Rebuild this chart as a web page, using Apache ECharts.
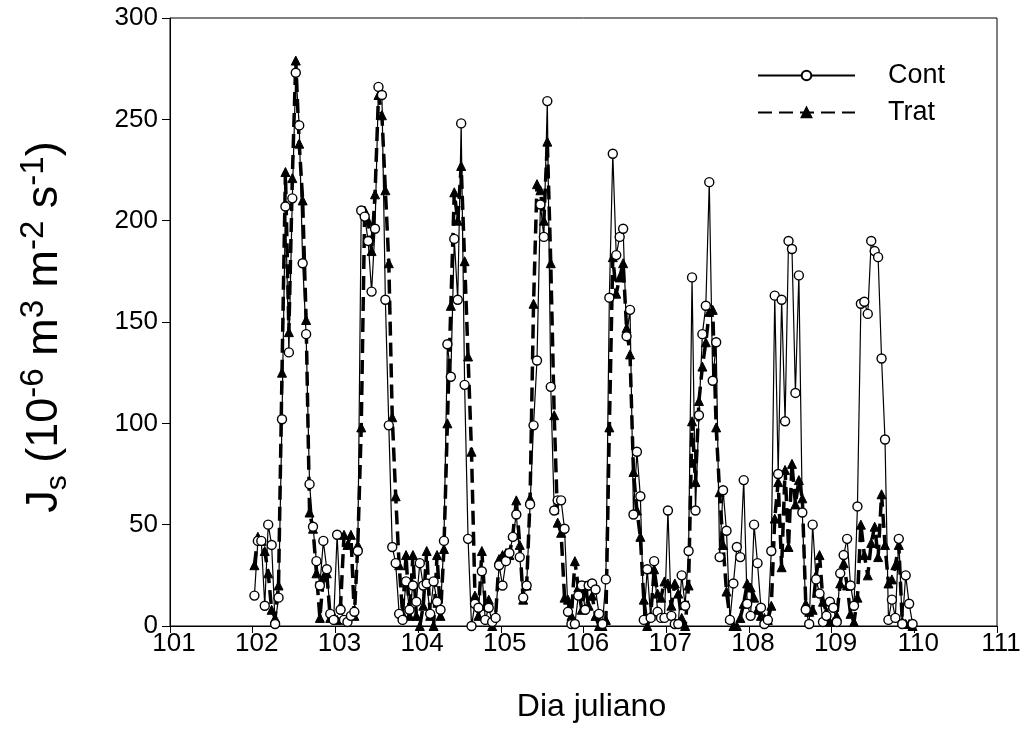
<!DOCTYPE html>
<html>
<head>
<meta charset="utf-8">
<script src="https://cdn.jsdelivr.net/npm/echarts@6/dist/echarts.min.js"></script>
<style>
  html, body { margin: 0; padding: 0; background: #fff; }
  #chart { width: 1025px; height: 756px; }
</style>
</head>
<body>
<div id="chart"></div>
<script>
// Sampling grid: hourly readings starting on day 102 (centre of each hour)
const startDay = 102;
const hoursPerDay = 24;

// Cont series, one array per julian day (24 hourly values)
const cont102 = [15, 42, 42, 10, 50, 40, 1, 14, 102, 207, 135, 211, 273, 247, 179, 144, 70, 49, 32, 20, 42, 28, 6, 3];
const cont103 = [45, 8, 3, 2, 5, 7, 37, 205, 202, 190, 165, 196, 266, 262, 161, 99, 39, 31, 6, 3, 22, 8, 20, 12];
const cont104 = [31, 20, 21, 6, 22, 12, 8, 42, 139, 123, 191, 161, 248, 119, 43, 0, 11, 9, 27, 3, 9, 2, 4, 30];
const cont105 = [20, 32, 36, 44, 55, 34, 14, 20, 60, 99, 131, 208, 192, 259, 118, 57, 62, 62, 48, 7, 1, 1, 15, 20];
const cont106 = [8, 20, 21, 18, 6, 1, 23, 162, 233, 183, 192, 196, 143, 156, 55, 86, 64, 3, 28, 4, 32, 7, 4, 4];
const cont107 = [57, 5, 1, 1, 25, 10, 37, 172, 57, 104, 144, 158, 219, 121, 140, 34, 67, 47, 3, 21, 39, 34, 72, 11];
const cont108 = [5, 50, 31, 9, 1, 3, 37, 163, 75, 161, 101, 190, 186, 115, 173, 56, 8, 1, 50, 23, 16, 2, 5, 12];
const cont109 = [9, 2, 26, 35, 43, 20, 10, 59, 159, 160, 154, 190, 185, 182, 132, 92, 3, 13, 4, 43, 1, 25, 11, 1];

// Trat series
const trat102 = [30, 44, 42, 37, 26, 8, 4, 20, 125, 224, 145, 221, 279, 238, 210, 151, 56, 48, 26, 4, 24, 26, 4, 5];
const trat103 = [3, 10, 45, 40, 45, 5, 40, 98, 205, 200, 185, 213, 262, 252, 215, 179, 103, 64, 30, 6, 35, 5, 35, 5];
const trat104 = [0, 10, 37, 5, 0, 35, 5, 38, 100, 158, 214, 200, 227, 180, 133, 86, 15, 5, 37, 10, 13, 0, 5, 33];
const trat105 = [35, 36, 35, 45, 62, 40, 13, 20, 63, 159, 218, 215, 200, 239, 179, 104, 51, 46, 14, 13, 5, 32, 19, 8];
const trat106 = [20, 10, 15, 5, 0, 0, 3, 98, 182, 164, 172, 179, 147, 134, 76, 57, 44, 13, 0, 5, 28, 16, 14, 22];
const trat107 = [21, 10, 21, 16, 4, 0, 20, 101, 71, 111, 128, 140, 155, 156, 98, 66, 40, 17, 4, 0, 0, 4, 11, 21];
const trat108 = [19, 14, 8, 5, 4, 3, 10, 53, 71, 29, 77, 39, 80, 60, 72, 63, 11, 7, 8, 25, 35, 12, 7, 2];
const trat109 = [2, 5, 21, 31, 20, 6, 2, 14, 50, 35, 25, 41, 49, 34, 65, 40, 21, 23, 30, 40, 2, 1, 1, 0];

const xTicks = [101, 102, 103, 104, 105, 106, 107, 108, 109, 110, 111];
const yTicks = [0, 50, 100, 150, 200, 250, 300];
const seriesNames = ['Cont', 'Trat'];

const contAll = [].concat(cont102, cont103, cont104, cont105, cont106, cont107, cont108, cont109);
const tratAll = [].concat(trat102, trat103, trat104, trat105, trat106, trat107, trat108, trat109);

function toPairs(vals) {
  return vals.map((v, i) => [startDay + (i + 0.5) / hoursPerDay, v]);
}

const font = 'Liberation Sans, Arial, sans-serif';
const chart = echarts.init(document.getElementById('chart'), null, { renderer: 'canvas' });

chart.setOption({
  animation: false,
  backgroundColor: '#ffffff',
  grid: {
    left: 170, right: 28, top: 18, bottom: 130,
    show: true, borderColor: '#000', borderWidth: 1, backgroundColor: 'transparent'
  },
  legend: {
    orient: 'vertical',
    left: 752, top: 57,
    itemWidth: 97, itemHeight: 12, itemGap: 10,
    textStyle: { fontSize: 27, color: '#000', fontFamily: font, padding: [0, 0, 0, 28] },
    data: seriesNames
  },
  xAxis: {
    type: 'value',
    min: xTicks[0], max: xTicks[xTicks.length - 1], interval: 1,
    name: 'Dia juliano',
    nameLocation: 'middle', nameGap: 65,
    nameTextStyle: { fontSize: 32, color: '#000', fontFamily: font, padding: [0, 0, 0, 16] },
    axisLine: { show: true, lineStyle: { color: '#000', width: 1 } },
    axisTick: { show: true, inside: false, length: 7, lineStyle: { color: '#000' } },
    axisLabel: { fontSize: 26, color: '#000', fontFamily: font, margin: 5, padding: [0, 0, 0, 8] },
    splitLine: { show: false }
  },
  yAxis: {
    type: 'value',
    min: yTicks[0], max: yTicks[yTicks.length - 1], interval: 50,
    name: '{b|J}{sub|s}{b| (10}{sup|-6}{b| m}{sup|3}{b| m}{sup|-2}{b| s}{sup|-1}{b|)}',
    nameLocation: 'middle', nameGap: 97, nameRotate: 90,
    nameTextStyle: {
      color: '#000', fontFamily: font, fontSize: 45,
      padding: [0, 10, 0, 0],
      rich: {
        b: { fontSize: 45, fontFamily: font, color: '#000', lineHeight: 56, verticalAlign: 'middle' },
        sup: { fontSize: 33, fontFamily: font, color: '#000', lineHeight: 32, verticalAlign: 'top' },
        sub: { fontSize: 30, fontFamily: font, color: '#000', lineHeight: 22, verticalAlign: 'bottom' }
      }
    },
    axisLine: { show: true, lineStyle: { color: '#000', width: 1 } },
    axisTick: { show: true, inside: false, length: 8, lineStyle: { color: '#000' } },
    axisLabel: { fontSize: 26, color: '#000', fontFamily: font, margin: 12 },
    splitLine: { show: false }
  },
  series: [
    {
      name: 'Trat',
      type: 'line',
      data: toPairs(tratAll),
      symbol: 'triangle',
      symbolSize: 9,
      itemStyle: { color: '#000', borderColor: '#000', borderWidth: 1 },
      lineStyle: { color: '#000', width: 3.5, type: [14, 7] },
      z: 2
    },
    {
      name: 'Cont',
      type: 'line',
      data: toPairs(contAll),
      symbol: 'circle',
      symbolSize: 9,
      showAllSymbol: true,
      itemStyle: { color: '#fff', borderColor: '#000', borderWidth: 1.4 },
      lineStyle: { color: '#000', width: 1.2, type: 'solid' },
      z: 3
    }
  ]
});
</script>
</body>
</html>
